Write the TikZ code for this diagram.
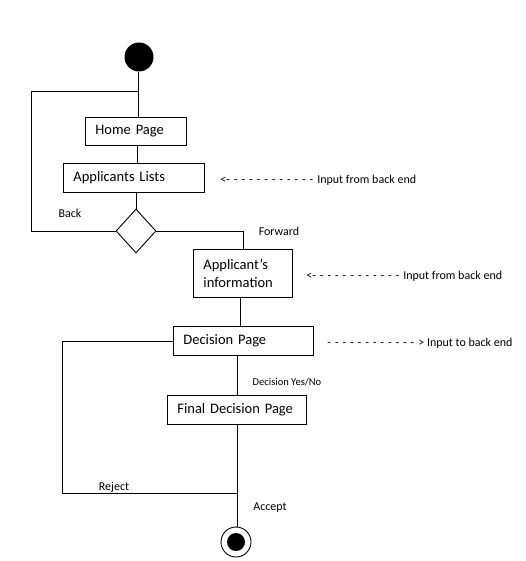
\documentclass[tikz,border=0pt]{standalone}
\usepackage{fontspec}
\setmainfont{Carlito}
\usetikzlibrary{shapes.geometric}
% one dash of a typed dashed pointer, with its gap
\newcommand\bkdash{-\hspace{3.9pt}}
\newcommand\bkdashes{\bkdash\bkdash\bkdash\bkdash\bkdash\bkdash\bkdash\bkdash\bkdash\bkdash\bkdash\bkdash}
\begin{document}
\begin{tikzpicture}[x=1pt,y=-1pt,
  line width=0.9pt,
  pagebox/.style={draw, rectangle, anchor=north west, inner xsep=10pt, inner ysep=0pt,
    align=left, font=\fontsize{14.5}{18}\selectfont},
  lbl/.style={font=\fontsize{12}{14}\selectfont, inner sep=0pt},
  smalllbl/.style={font=\fontsize{10.5}{12}\selectfont, inner sep=0pt},
  note/.style={font=\fontsize{12}{14}\selectfont, inner sep=0pt, anchor=west}]
  \useasboundingbox (0,0) rectangle (526,561);

  % start and end states
  \node[circle, fill=black, minimum size=29pt, inner sep=0pt] (start) at (139,57) {};
  \node[circle, draw, fill=white, minimum size=30pt, inner sep=0pt] (stop) at (236,542) {};
  \fill[black] (stop.center) circle (9);

  % pages
  \node[pagebox, text width=81pt, minimum height=28pt] (home) at (85,117) {Home Page};
  \node[pagebox, text width=121pt, minimum height=29pt] (apps) at (63,163) {Applicants Lists};
  \node[draw, diamond, minimum width=40pt, minimum height=44pt, inner sep=0pt] (dec) at (136,231) {};
  \node[pagebox, text width=79pt, minimum height=48pt] (info) at (193,249) {Applicant’s\\information};
  \node[pagebox, text width=120pt, minimum height=29pt] (decp) at (173,326) {Decision Page};
  \node[pagebox, text width=119pt, minimum height=29pt] (final) at (167,395) {Final Decision Page};

  % loop corners and junctions
  \coordinate (bk) at (31,91);
  \coordinate (rj) at (62,493);
  \coordinate (top) at (138,91);
  \coordinate (acc) at (237,493);

  % flow lines
  \draw (start.south -| top) -- (home.north -| top);
  \draw (dec.west) -| (bk) -- (top);
  \draw (home.south -| 137,0) -- (apps.north -| 137,0);
  \draw (apps.south -| dec) -- (dec.north);
  \draw (dec.east) -| (info.north);
  \draw (info.south -| 240,0) -- (decp.north -| 240,0);
  \draw (decp.west) -| (rj) -- (acc);
  \draw (decp.south -| acc) -- (final.north -| acc);
  \draw (final.south -| acc) -- (stop.north -| acc);

  % labels
  \node[lbl] (lback) at (70,213) {Back};
  \node[lbl] (lfwd) at (279,231) {Forward};
  \node[smalllbl] (lyn) at (287,382) {Decision Yes/No};
  \node[lbl] (lrej) at (114,487) {Reject};
  \node[lbl] (lacc) at (270,508) {Accept};

  % back end notes
  \node[note] (n1) at (220,180) {<\bkdashes Input from back end};
  \node[note] (n2) at (306,276) {<\bkdashes Input from back end};
  \node[note] (n3) at (327,343) {\bkdashes> Input to back end};
\end{tikzpicture}
\end{document}
